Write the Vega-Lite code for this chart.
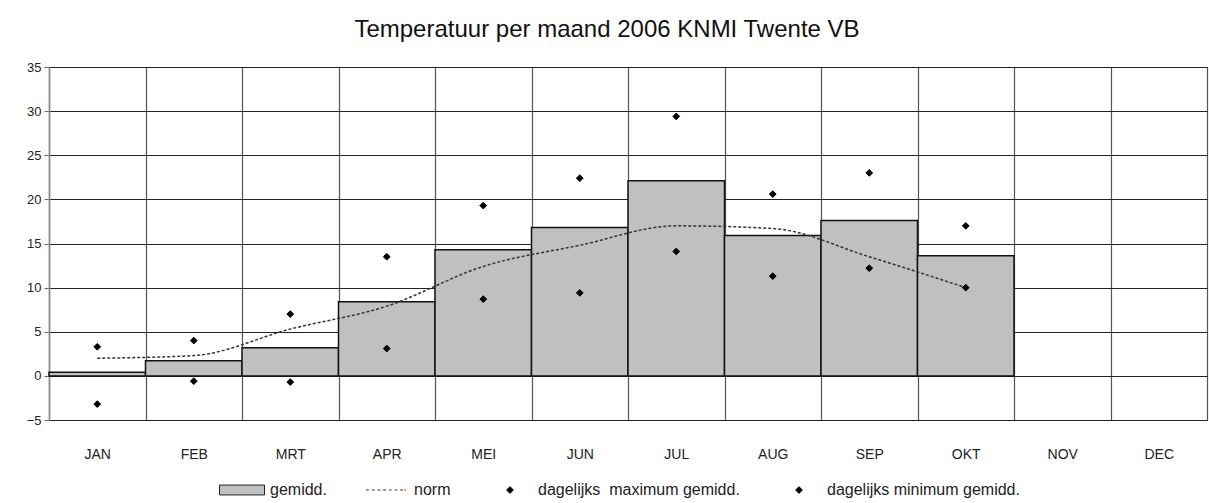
{
  "$schema": "https://vega.github.io/schema/vega-lite/v6.json",
  "width": 1158,
  "height": 353,
  "autosize": {"type": "none"},
  "padding": {"left": 49, "top": 67, "right": 2, "bottom": 83},
  "background": "white",
  "config": {"view": {"stroke": "#555", "strokeWidth": 1}},
  "title": {
    "text": "Temperatuur per maand 2006 KNMI Twente VB",
    "font": "Liberation Sans",
    "fontSize": 24,
    "fontWeight": "normal",
    "color": "#111",
    "anchor": "middle",
    "frame": "group",
    "baseline": "alphabetic",
    "offset": 0,
    "dx": -21
  },
  "data": {
    "values": [
      {"maand": "JAN", "gemidd": 0.4, "norm": 2.0, "max": 3.3, "min": -3.2},
      {"maand": "FEB", "gemidd": 1.7, "norm": 2.3, "max": 4.0, "min": -0.6},
      {"maand": "MRT", "gemidd": 3.2, "norm": 5.3, "max": 7.0, "min": -0.7},
      {"maand": "APR", "gemidd": 8.4, "norm": 7.9, "max": 13.5, "min": 3.1},
      {"maand": "MEI", "gemidd": 14.3, "norm": 12.4, "max": 19.3, "min": 8.7},
      {"maand": "JUN", "gemidd": 16.8, "norm": 14.8, "max": 22.4, "min": 9.4},
      {"maand": "JUL", "gemidd": 22.1, "norm": 17.0, "max": 29.4, "min": 14.1},
      {"maand": "AUG", "gemidd": 15.9, "norm": 16.7, "max": 20.6, "min": 11.3},
      {"maand": "SEP", "gemidd": 17.6, "norm": 13.5, "max": 23.0, "min": 12.2},
      {"maand": "OKT", "gemidd": 13.6, "norm": 10.0, "max": 17.0, "min": 10.0}
    ]
  },
  "encoding": {
    "x": {
      "field": "maand",
      "type": "nominal",
      "sort": null,
      "title": null,
      "scale": {
        "domain": ["JAN", "FEB", "MRT", "APR", "MEI", "JUN", "JUL", "AUG", "SEP", "OKT", "NOV", "DEC"],
        "paddingInner": 0,
        "paddingOuter": 0
      },
      "axis": {
        "labelAngle": 0,
        "labelFont": "Liberation Sans",
        "labelFontSize": 14,
        "labelColor": "#222",
        "labelPadding": 27,
        "ticks": false,
        "tickSize": 0,
        "domain": false,
        "grid": true,
        "tickBand": "extent",
        "gridColor": "#555",
        "gridWidth": 1.2,
        "gridOpacity": 1
      }
    }
  },
  "layer": [
    {
      "mark": {"type": "bar", "fill": "#c0c0c0", "stroke": "#111", "strokeWidth": 1.5},
      "encoding": {
        "y": {
          "field": "gemidd",
          "type": "quantitative",
          "title": null,
          "scale": {"domain": [-5, 35], "nice": false, "zero": false},
          "axis": {
            "values": [-5, 0, 5, 10, 15, 20, 25, 30, 35],
            "labelFont": "Liberation Sans",
            "labelFontSize": 13,
            "labelColor": "#222",
            "labelPadding": 3,
            "tickSize": 5,
            "tickColor": "#666",
            "domainColor": "#888",
            "domainWidth": 1.5,
            "grid": true,
            "gridColor": "#222",
            "gridWidth": 1,
            "gridOpacity": 1
          }
        }
      }
    },
    {
      "mark": {"type": "line", "stroke": "#333", "strokeDash": [3, 2], "strokeWidth": 1.5, "interpolate": "monotone"},
      "encoding": {
        "y": {"field": "norm", "type": "quantitative", "title": null}
      }
    },
    {
      "transform": [{"fold": ["max", "min"], "as": ["serie", "waarde"]}],
      "mark": {"type": "point", "filled": true, "opacity": 1, "strokeWidth": 1, "size": 2025},
      "encoding": {
        "y": {"field": "waarde", "type": "quantitative", "title": null},
        "shape": {
          "field": "serie",
          "type": "nominal",
          "scale": {
            "domain": ["gemidd", "norm", "max", "min"],
            "range": [
              "M-1,-0.22H1V0.22H-1Z",
              "M-0.89,0H-0.76M-0.63,0H-0.5M-0.38,0H-0.25M-0.13,0H0M0.13,0H0.25M0.38,0H0.5M0.63,0H0.76M0.82,0H0.89",
              "M-0.15,0L0,-0.15L0.15,0L0,0.15Z",
              "M-0.15,0L0,-0.15L0.15,0L0,0.15Z"
            ]
          },
          "legend": {
            "title": null,
            "orient": "none",
            "legendX": 170,
            "legendY": 400,
            "direction": "horizontal",
            "columns": 4,
            "columnPadding": 36,
            "labelOffset": 5,
            "labelLimit": 400,
            "labelFont": "Liberation Sans",
            "labelFontSize": 16,
            "labelColor": "#222",
            "symbolSize": 2025,
            "symbolStrokeWidth": 1,
            "labelExpr": "datum.label == 'gemidd' ? 'gemidd.' : datum.label == 'norm' ? 'norm' : datum.label == 'max' ? 'dagelijks\u00a0 maximum gemidd.' : 'dagelijks minimum gemidd.'"
          }
        },
        "fill": {
          "field": "serie",
          "type": "nominal",
          "scale": {"domain": ["gemidd", "norm", "max", "min"], "range": ["#c0c0c0", "transparent", "black", "black"]}
        },
        "stroke": {
          "field": "serie",
          "type": "nominal",
          "scale": {"domain": ["gemidd", "norm", "max", "min"], "range": ["#222", "#333", "black", "black"]}
        }
      }
    }
  ]
}
